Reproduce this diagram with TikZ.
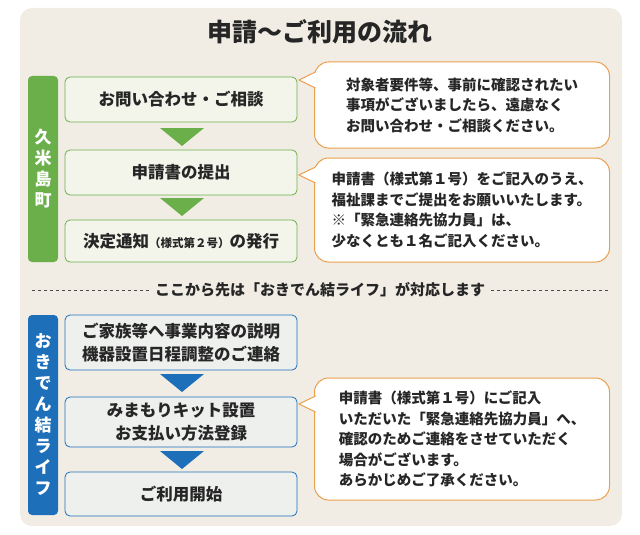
\documentclass[tikz,border=0pt]{standalone}
\usepackage{fontspec}
\setmainfont{Noto Sans CJK JP}
\begin{document}
\begin{tikzpicture}[x=1pt,y=-1pt,
 gbox/.style={draw=grn,fill=gfill,rounded corners=5pt,line width=0.8pt,minimum width=232pt,align=center,font=\fontsize{16.5}{21}\selectfont\bfseries,text=black!85},
 bbox/.style={draw=blu,fill=bfill,rounded corners=5pt,line width=0.8pt,minimum width=232pt,align=center,font=\fontsize{16.5}{23}\selectfont\bfseries,text=black!85},
 bar/.style={rounded corners=4pt,minimum width=30pt,text=white,align=center,font=\fontsize{17}{21}\selectfont\bfseries},
 bub/.style={draw=org,fill=white,rounded corners=14pt,line width=1pt,minimum width=295pt,align=left,font=\fontsize{14.5}{20.5}\selectfont\bfseries,text=black!85}]
\definecolor{grn}{HTML}{6BAF4B}\definecolor{gfill}{HTML}{F4F5EA}
\definecolor{blu}{HTML}{1E6FBA}\definecolor{bfill}{HTML}{EEF0EE}
\definecolor{org}{HTML}{EBA04E}\definecolor{bg}{HTML}{F1EDE5}
\useasboundingbox (0,0) rectangle (640,535);
\fill[bg,rounded corners=12pt] (20,8) rectangle (622,526);
\node[font=\fontsize{25}{28}\selectfont\bfseries,text=black!85] (title) at (320,32) {申請〜ご利用の流れ};
% green
\node[bar,fill=grn,minimum height=186pt] (kb) at (43,169) {久\\米\\島\\町};
\node[gbox,minimum height=45pt] (g1) at (181,99.5) {お問い合わせ・ご相談};
\node[gbox,minimum height=45pt] (g2) at (181,172.5) {申請書の提出};
\node[gbox,minimum height=42pt] (g3) at (181,241) {決定通知{\fontsize{11.5}{12}\selectfont（様式第２号）}の発行};
\fill[grn] (160,128) -- (204,128) -- (182,146) -- cycle;
\fill[grn] (160,198) -- (204,198) -- (182,216) -- cycle;
% bubbles
\node[bub,minimum height=86pt] (b1) at (462,105) {対象者要件等、事前に確認されたい\\事項がございましたら、遠慮なく\\お問い合わせ・ご相談ください。};
\node[bub,minimum height=104pt] (b2) at (462,210) {申請書（様式第１号）をご記入のうえ、\\福祉課までご提出をお願いいたします。\\※「緊急連絡先協力員」は、\\少なくとも１名ご記入ください。};
\node[bub,minimum height=122pt] (b3) at (462,439) {申請書（様式第１号）にご記入\\いただいた「緊急連絡先協力員」へ、\\確認のためご連絡をさせていただく\\場合がございます。\\あらかじめご了承ください。};
\foreach \b/\y in {b1/80,b2/175,b3/404}{
 \fill[white] (316,\y-8) -- (299,\y) -- (316,\y+8) -- cycle;
 \draw[org,line width=1pt] (315.5,\y-8) -- (299,\y) -- (315.5,\y+8);
}
% divider
\node[font=\fontsize{15}{18}\selectfont\bfseries,text=black!85,fill=bg,inner sep=6pt] (div) at (320,290) {ここから先は「おきでん結ライフ」が対応します};
\draw[dashed,black!70,line width=0.6pt] (32,290) -- (div.west);
\draw[dashed,black!70,line width=0.6pt] (div.east) -- (608,290);
% blue
\node[bar,fill=blu,minimum height=200pt] (ob) at (43,415) {お\\き\\で\\ん\\結\\ラ\\イ\\フ};
\node[bbox,minimum height=55pt] (u1) at (181,342.5) {ご家族等へ事業内容の説明\\機器設置日程調整のご連絡};
\node[bbox,minimum height=50pt] (u2) at (181,422) {みまもりキット設置\\お支払い方法登録};
\node[bbox,minimum height=44pt] (u3) at (181,494) {ご利用開始};
\fill[blu] (160,374) -- (204,374) -- (182,392) -- cycle;
\fill[blu] (160,451) -- (204,451) -- (182,469) -- cycle;
\end{tikzpicture}
\end{document}
